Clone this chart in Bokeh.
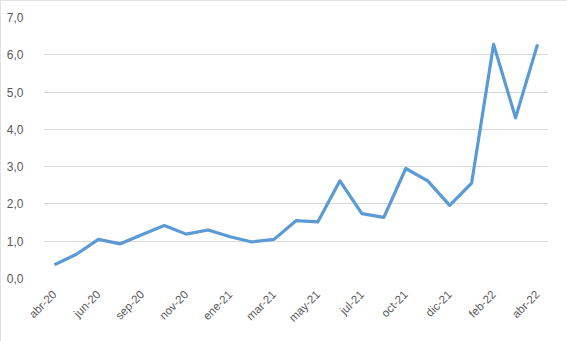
import math
from bokeh.plotting import figure
from bokeh.models import FixedTicker, Range1d
from bokeh.embed import file_html
from bokeh.resources import INLINE

values = [0.37, 0.65, 1.05, 0.93, 1.18, 1.42, 1.19, 1.30, 1.12, 0.98, 1.05, 1.55,
          1.52, 2.62, 1.74, 1.64, 2.95, 2.62, 1.96, 2.56, 6.28, 4.31, 6.28]
tick_labels = ["abr-20", "jun-20", "sep-20", "nov-20", "ene-21", "mar-21",
               "may-21", "jul-21", "oct-21", "dic-21", "feb-22", "abr-22"]
y_ticks = [0, 1, 2, 3, 4, 5, 6, 7]

x = list(range(len(values)))
label_pos = x[::2]

W, H = 567, 341
p = figure(width=W, height=H, output_backend="svg", toolbar_location=None,
           x_range=Range1d(-0.5, len(values) - 0.5), y_range=Range1d(0, 7),
           min_border_left=43, min_border_right=19, min_border_top=17, min_border_bottom=63)
p.outline_line_color = None
p.background_fill_color = "white"
p.border_fill_color = "white"
p.styles = {"outline": "2px solid #d9d9d9", "outline-offset": "-2px"}

p.line(x, values, line_color="#5b9bd5", line_width=3.2, line_join="round")

font = "Liberation Sans"
p.yaxis.ticker = FixedTicker(ticks=y_ticks)
p.yaxis.major_label_overrides = {t: f"{t},0" for t in y_ticks}
p.xaxis.ticker = FixedTicker(ticks=label_pos)
p.xaxis.major_label_overrides = {pos: lab for pos, lab in zip(label_pos, tick_labels)}
p.xaxis.major_label_orientation = math.pi / 4

for ax in (p.xaxis, p.yaxis):
    ax.axis_line_color = None
    ax.major_tick_line_color = None
    ax.minor_tick_line_color = None
    ax.major_label_text_font = font
    ax.major_label_text_color = "#595959"
p.xaxis.major_label_text_font_size = "11.5px"
p.yaxis.major_label_text_font_size = "12px"
p.yaxis.major_label_standoff = 14
p.xaxis.major_label_standoff = 8

p.xgrid.grid_line_color = None
p.ygrid.grid_line_color = "#d9d9d9"
p.ygrid.grid_line_width = 1
p.ygrid.ticker = FixedTicker(ticks=y_ticks)

open("out.html", "w").write(file_html(p, INLINE))
